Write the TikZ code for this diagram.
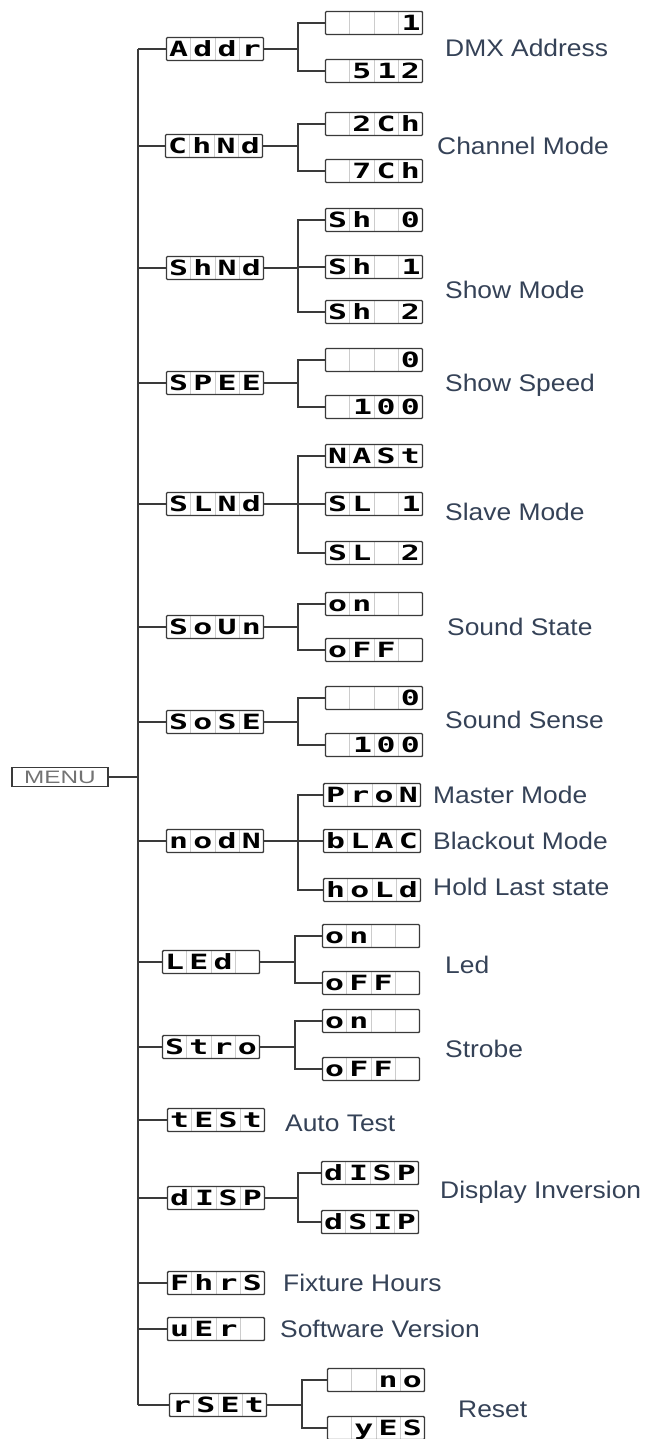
\documentclass[tikz,border=0pt]{standalone}
\usepackage{fontspec}
\setmainfont{Liberation Sans}
\newfontfamily\segfont[FakeStretch=1.5]{DejaVu Sans Mono}
\newfontfamily\descfont[FakeStretch=1.1]{Liberation Sans}
\newfontfamily\menufont[FakeStretch=1.35]{Liberation Sans}
\usetikzlibrary{calc}
\definecolor{desccol}{HTML}{354257}
\definecolor{lncol}{HTML}{3A3A3A}
\newcommand{\cel}[1]{\makebox[24.25pt]{#1}}
\newcommand{\celr}[1]{\makebox[24.25pt][r]{#1\hspace{2pt}}}
\newcommand{\lcd}[4]{\cel{#1}\cel{#2}\cel{#3}\cel{#4}}
\newcommand{\twofork}[4]{\draw[conn] (#1.east) -- (#1.east -| #4);
  \draw[conn] (#2.west) -- (#2.west -| #4) -- (#3.west -| #4) -- (#3.west);}
\tikzset{
  conn/.style={draw=lncol, line width=1.4pt},
  lcdbox/.style={draw=lncol, line width=1.4pt, fill=white, rounded corners=1pt,
    minimum width=97pt, minimum height=23pt, inner sep=0pt,
    text height=15pt, text depth=0pt,
    font=\segfont\bfseries\fontsize{21}{21}\selectfont,
    path picture={\foreach \i in {1,2,3}{\draw[gray!40,line width=0.8pt]
      ($(path picture bounding box.south west)!\i/4!(path picture bounding box.south east)$) --
      ($(path picture bounding box.north west)!\i/4!(path picture bounding box.north east)$);}}},
  menubox/.style={draw=lncol, line width=1.2pt, fill=white, minimum width=96pt, minimum height=19pt,
    inner sep=0pt, text=black!55, text height=13pt, text depth=0pt, font=\menufont\fontsize{18}{18}\selectfont},
  desc/.style={anchor=west, text=desccol, inner sep=0pt, text height=17pt, text depth=0pt,
    font=\descfont\fontsize{24}{24}\selectfont}
}
\begin{document}
\begin{tikzpicture}[x=1pt,y=-1pt]
\useasboundingbox (0,0) rectangle (646,1439);
\coordinate (spine) at (138,0);
\coordinate (b2) at (298,0);
\coordinate (b3) at (295,0);
\coordinate (b4) at (302,0);
% menu
\node[menubox] (menu) at (60,777) {MENU};
% level 1
\node[lcdbox] (addr) at (215,49) {\lcd{A}{d}{d}{r}};
\node[lcdbox] (chnd) at (214,146) {\lcd{C}{h}{N}{d}};
\node[lcdbox] (shnd) at (215,268) {\lcd{S}{h}{N}{d}};
\node[lcdbox] (spee) at (215,383) {\lcd{S}{P}{E}{E}};
\node[lcdbox] (slnd) at (215,504) {\lcd{S}{L}{N}{d}};
\node[lcdbox] (soun) at (215,627) {\lcd{S}{o}{U}{n}};
\node[lcdbox] (sose) at (215,722) {\lcd{S}{o}{S}{E}};
\node[lcdbox] (nodn) at (215,841) {\lcd{n}{o}{d}{N}};
\node[lcdbox] (led) at (211,962) {\lcd{L}{E}{d}{}};
\node[lcdbox] (stro) at (211,1047) {\lcd{S}{t}{r}{o}};
\node[lcdbox] (test) at (216,1120) {\lcd{t}{E}{S}{t}};
\node[lcdbox] (disp) at (216,1198) {\cel{d}\celr{I}\cel{S}\cel{P}};
\node[lcdbox] (fhrs) at (216,1283) {\lcd{F}{h}{r}{S}};
\node[lcdbox] (uer) at (216,1329) {\lcd{u}{E}{r}{}};
\node[lcdbox] (rset) at (218,1405) {\lcd{r}{S}{E}{t}};
% level 2
\node[lcdbox] (a1) at (374,23) {\cel{}\cel{}\cel{}\celr{1}};
\node[lcdbox] (a2) at (374,71) {\cel{}\cel{5}\celr{1}\cel{2}};
\node[lcdbox] (c1) at (374,124) {\lcd{}{2}{C}{h}};
\node[lcdbox] (c2) at (374,171) {\lcd{}{7}{C}{h}};
\node[lcdbox] (s0) at (374,220) {\lcd{S}{h}{}{0}};
\node[lcdbox] (s1) at (374,267) {\cel{S}\cel{h}\cel{}\celr{1}};
\node[lcdbox] (s2) at (374,312) {\lcd{S}{h}{}{2}};
\node[lcdbox] (p1) at (374,360) {\lcd{}{}{}{0}};
\node[lcdbox] (p2) at (374,407) {\cel{}\celr{1}\cel{0}\cel{0}};
\node[lcdbox] (m0) at (374,456) {\lcd{N}{A}{S}{t}};
\node[lcdbox] (m1) at (374,504) {\cel{S}\cel{L}\cel{}\celr{1}};
\node[lcdbox] (m2) at (374,553) {\lcd{S}{L}{}{2}};
\node[lcdbox] (u1) at (374,604) {\lcd{o}{n}{}{}};
\node[lcdbox] (u2) at (374,650) {\lcd{o}{F}{F}{}};
\node[lcdbox] (e1) at (374,698) {\lcd{}{}{}{0}};
\node[lcdbox] (e2) at (374,745) {\cel{}\celr{1}\cel{0}\cel{0}};
\node[lcdbox] (n1) at (372,795) {\lcd{P}{r}{o}{N}};
\node[lcdbox] (n2) at (372,841) {\lcd{b}{L}{A}{C}};
\node[lcdbox] (n3) at (372,890) {\lcd{h}{o}{L}{d}};
\node[lcdbox] (l1) at (371,936) {\lcd{o}{n}{}{}};
\node[lcdbox] (l2) at (371,983) {\lcd{o}{F}{F}{}};
\node[lcdbox] (t1) at (371,1021) {\lcd{o}{n}{}{}};
\node[lcdbox] (t2) at (371,1069) {\lcd{o}{F}{F}{}};
\node[lcdbox] (d1) at (370,1173) {\cel{d}\celr{I}\cel{S}\cel{P}};
\node[lcdbox] (d2) at (370,1222) {\cel{d}\cel{S}\celr{I}\cel{P}};
\node[lcdbox] (r1) at (376,1380) {\lcd{}{}{n}{o}};
\node[lcdbox] (r2) at (376,1428) {\lcd{}{y}{E}{S}};
% descriptions
\node[desc] (dmx) at (445,48) {DMX Address};
\node[desc] (chm) at (437,146) {Channel Mode};
\node[desc] (shm) at (445,290) {Show Mode};
\node[desc] (shs) at (445,383) {Show Speed};
\node[desc] (slm) at (445,512) {Slave Mode};
\node[desc] (sst) at (447,627) {Sound State};
\node[desc] (sse) at (445,720) {Sound Sense};
\node[desc] (mam) at (433,795) {Master Mode};
\node[desc] (blm) at (433,841) {Blackout Mode};
\node[desc] (hls) at (433,887) {Hold Last state};
\node[desc] (ledl) at (445,965) {Led};
\node[desc] (strl) at (445,1049) {Strobe};
\node[desc] (atl) at (285,1123) {Auto Test};
\node[desc] (dil) at (440,1190) {Display Inversion};
\node[desc] (fhl) at (283,1283) {Fixture Hours};
\node[desc] (swl) at (280,1329) {Software Version};
\node[desc] (rsl) at (458,1409) {Reset};
% spine
\draw[conn] (menu.east) -- (menu.east -| spine);
\draw[conn] (addr.west -| spine) -- (rset.west -| spine);
\foreach \n in {addr,chnd,shnd,spee,slnd,soun,sose,nodn,led,stro,test,disp,fhrs,uer,rset}{
  \draw[conn] (\n.west -| spine) -- (\n.west);
}
% forks
\twofork{addr}{a1}{a2}{b2}
\twofork{chnd}{c1}{c2}{b2}
\twofork{shnd}{s0}{s2}{b2}
\draw[conn] (s1.west -| b2) -- (s1.west);
\twofork{spee}{p1}{p2}{b2}
\twofork{slnd}{m0}{m2}{b2}
\draw[conn] (m1.west -| b2) -- (m1.west);
\twofork{soun}{u1}{u2}{b2}
\twofork{sose}{e1}{e2}{b2}
\twofork{nodn}{n1}{n3}{b2}
\draw[conn] (n2.west -| b2) -- (n2.west);
\twofork{led}{l1}{l2}{b3}
\twofork{stro}{t1}{t2}{b3}
\twofork{disp}{d1}{d2}{b2}
\twofork{rset}{r1}{r2}{b4}
\end{tikzpicture}
\end{document}
